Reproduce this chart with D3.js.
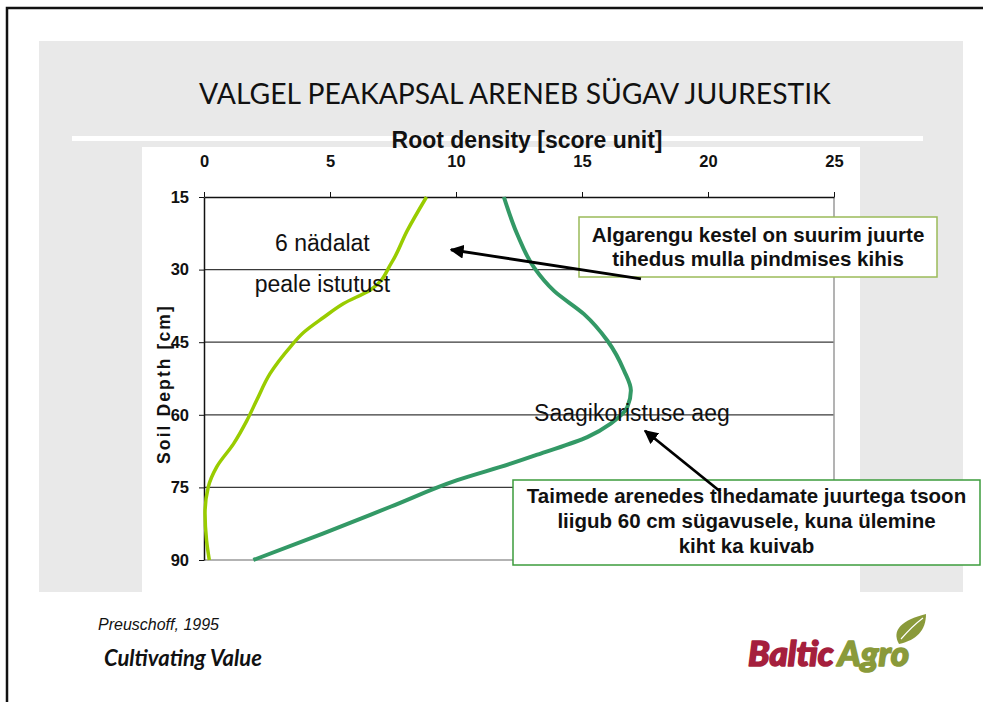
<!DOCTYPE html>
<html>
<head>
<meta charset="utf-8">
<script src="https://cdn.jsdelivr.net/npm/d3@7"></script>
<style>
  body { margin: 0; background: #fff; }
  svg { display: block; }
</style>
</head>
<body>
<div id="vis"></div>
<script>
// axis ticks
const xTicks = [0, 5, 10, 15, 20, 25];
const yTicks = [15, 30, 45, 60, 75, 90];

// 6 weeks after planting (light green)
const week6Depth   = [15, 22, 28.5, 34.2, 37, 39.9, 43, 46, 51.5, 57, 61.2, 66, 70.8, 74.9, 80.4, 85.9, 90];
const week6Density = [8.83, 8.06, 7.45, 6.6, 5.54, 4.74, 3.95, 3.42, 2.62, 2.09, 1.7, 1.17, 0.5, 0.17, 0.04, 0.1, 0.21];

// harvest time (dark green)
const harvestDepth   = [15, 22.7, 29.6, 34.4, 39.2, 44.7, 50.9, 55, 58.4, 61.8, 64.6, 68, 70.1, 73.5, 79, 84.5, 90];
const harvestDensity = [11.9, 12.43, 13.1, 13.89, 15.08, 16.01, 16.67, 16.94, 16.8, 16.14, 15.21, 13.36, 12.17, 10.05, 7.4, 4.74, 1.96];

const box1Lines = ["Algarengu kestel on suurim juurte", "tihedus mulla pindmises kihis"];
const box2Lines = ["Taimede arenedes tihedamate juurtega tsoon", "liigub 60 cm sügavusele, kuna ülemine", "kiht ka kuivab"];

const W = 983, H = 702;
const svg = d3.select("#vis").append("svg")
    .attr("width", W)
    .attr("height", H);

let defs = svg.append("defs");
defs.append("marker")
    .attr("id", "head")
    .attr("viewBox", "0 0 10 10")
    .attr("refX", 9).attr("refY", 5)
    .attr("markerWidth", 5).attr("markerHeight", 5)
    .attr("orient", "auto-start-reverse")
    .append("path")
    .attr("d", "M0,0 L10,5 L0,10 z")
    .attr("fill", "#000");

////////// slide background //////////
svg.append("path")
    .attr("d", "M7,702 V8 H983")
    .attr("fill", "none")
    .attr("stroke", "#111")
    .attr("stroke-width", 2.5);

svg.append("rect")
    .attr("x", 39).attr("y", 41)
    .attr("width", 924).attr("height", 551)
    .attr("fill", "#e9e9e9");

svg.append("rect")
    .attr("x", 72).attr("y", 136)
    .attr("width", 851).attr("height", 5)
    .attr("fill", "#fff");

svg.append("rect")
    .attr("x", 142).attr("y", 147)
    .attr("width", 718).attr("height", 445)
    .attr("fill", "#fff");

svg.append("text")
    .attr("x", 515).attr("y", 104)
    .attr("text-anchor", "middle")
    .style("font-family", "Lato, 'Open Sans', sans-serif")
    .style("font-size", "28.3px")
    .style("fill", "#111")
    .text("VALGEL PEAKAPSAL ARENEB SÜGAV JUURESTIK");

////////// chart //////////
let x = d3.scaleLinear().domain([0, 25]).range([204, 834]);
let y = d3.scaleLinear().domain([15, 90]).range([197, 560]);

// grid lines
svg.append("g")
    .selectAll("line")
    .data(yTicks.slice(1, -1))
    .enter()
    .append("line")
    .attr("x1", x(0)).attr("x2", x(25))
    .attr("y1", d => y(d)).attr("y2", d => y(d))
    .attr("stroke", "#3a3a3a")
    .attr("stroke-width", 1.2);

// right and bottom frame
svg.append("path")
    .attr("d", `M${x(25)},${y(15)} V${y(90)} H${x(0)}`)
    .attr("fill", "none")
    .attr("stroke", "#9a9a9a")
    .attr("stroke-width", 1.5);

let xAxis = svg.append("g")
    .attr("transform", "translate(0," + y(15) + ")")
    .call(d3.axisTop(x).tickValues(xTicks).tickSize(5).tickPadding(25).tickSizeOuter(0));

let yAxis = svg.append("g")
    .attr("transform", "translate(" + x(0) + ",0)")
    .call(d3.axisLeft(y).tickValues(yTicks).tickSize(5).tickPadding(10).tickSizeOuter(0));

[xAxis, yAxis].forEach(a => {
    a.select(".domain").attr("stroke", "#111").attr("stroke-width", 1.5);
    a.selectAll(".tick line").attr("stroke", "#111");
    a.selectAll(".tick text")
        .style("font-family", "'Liberation Sans', Arial, sans-serif")
        .style("font-weight", "bold")
        .style("font-size", "16.5px")
        .attr("fill", "#111");
});

svg.append("text")
    .attr("x", 527).attr("y", 148)
    .attr("text-anchor", "middle")
    .style("font-family", "'Liberation Sans', Arial, sans-serif")
    .style("font-weight", "bold")
    .style("font-size", "23px")
    .style("fill", "#111")
    .text("Root density [score unit]");

svg.append("text")
    .attr("transform", "translate(170,384) rotate(-90)")
    .attr("text-anchor", "middle")
    .style("font-family", "'Liberation Sans', Arial, sans-serif")
    .style("font-weight", "bold")
    .style("font-size", "17.5px")
    .style("letter-spacing", "2.1px")
    .style("fill", "#111")
    .text("Soil Depth [cm]");

////////// curves //////////
let line = d3.line()
    .x(d => x(d[1]))
    .y(d => y(d[0]))
    .curve(d3.curveMonotoneY);

svg.append("path")
    .datum(d3.zip(week6Depth, week6Density))
    .attr("d", line)
    .attr("fill", "none")
    .attr("stroke", "#99cc00")
    .attr("stroke-width", 3.5);

svg.append("path")
    .datum(d3.zip(harvestDepth, harvestDensity))
    .attr("d", line)
    .attr("fill", "none")
    .attr("stroke", "#339966")
    .attr("stroke-width", 4);

////////// annotations //////////
const labelStyle = t => t
    .style("font-family", "'Liberation Sans', Arial, sans-serif")
    .style("font-size", "23px")
    .style("fill", "#111");

svg.append("text").attr("x", x(4.7)).attr("y", y(26.1)).attr("text-anchor", "middle")
    .call(labelStyle).text("6 nädalat");
svg.append("text").attr("x", x(4.7)).attr("y", y(34.6)).attr("text-anchor", "middle")
    .call(labelStyle).text("peale istutust");
svg.append("text").attr("x", x(13.1)).attr("y", y(61.2)).attr("text-anchor", "start")
    .call(labelStyle).text("Saagikoristuse aeg");

function callout(bx, by, bw, bh, stroke, lines, firstBase, step) {
    svg.append("rect")
        .attr("x", bx).attr("y", by)
        .attr("width", bw).attr("height", bh)
        .attr("fill", "#fff")
        .attr("stroke", stroke)
        .attr("stroke-width", 1.5);
    svg.append("g")
        .selectAll("text")
        .data(lines)
        .enter()
        .append("text")
        .attr("x", bx + bw / 2)
        .attr("y", (d, i) => firstBase + i * step)
        .attr("text-anchor", "middle")
        .style("font-family", "'Liberation Sans', Arial, sans-serif")
        .style("font-weight", "bold")
        .style("font-size", "20.5px")
        .style("fill", "#111")
        .text(d => d);
}

callout(579, 217, 358, 60, "#9bbb59", box1Lines, 242, 23.5);
callout(513, 480, 467, 85, "#3c9c3c", box2Lines, 503, 25);

function arrow(from, to) {
    svg.append("line")
        .attr("x1", x(from[0])).attr("y1", y(from[1]))
        .attr("x2", x(to[0])).attr("y2", y(to[1]))
        .attr("stroke", "#000")
        .attr("stroke-width", 2.8)
        .attr("marker-end", "url(#head)");
}
arrow([17.34, 31.9], [9.8, 25.9]);
arrow([20.5, 75.9], [17.5, 63.3]);

////////// footer //////////
svg.append("text")
    .attr("x", 98).attr("y", 630)
    .style("font-family", "'Liberation Sans', Arial, sans-serif")
    .style("font-style", "italic")
    .style("font-size", "16px")
    .style("fill", "#111")
    .text("Preuschoff, 1995");

svg.append("text")
    .attr("x", 104).attr("y", 666)
    .style("font-family", "Lato, sans-serif")
    .style("font-style", "italic")
    .style("font-weight", "bold")
    .style("font-size", "22px")
    .style("fill", "#111")
    .text("Cultivating Value");

let logo = svg.append("text")
    .attr("x", 748).attr("y", 666)
    .style("font-family", "Lato, sans-serif")
    .style("font-style", "italic")
    .style("font-weight", "900")
    .style("font-size", "35px")
    .style("stroke-width", "1.6px")
    .style("stroke-linejoin", "round");
logo.append("tspan").attr("fill", "#a51f3d").attr("stroke", "#a51f3d").text("Baltic");
logo.append("tspan").attr("fill", "#8a9a3a").attr("stroke", "#8a9a3a").attr("dx", 4).text("Agro");

// leaf
svg.append("path")
    .attr("d", "M899,644 C891,630 902,620 926,614 C926,630 917,640 899,644 Z")
    .attr("fill", "#8a9a3a");
svg.append("path")
    .attr("d", "M901,639 C908,631 915,624 923,618")
    .attr("fill", "none")
    .attr("stroke", "#fff")
    .attr("stroke-width", 1.2);
</script>
</body>
</html>
